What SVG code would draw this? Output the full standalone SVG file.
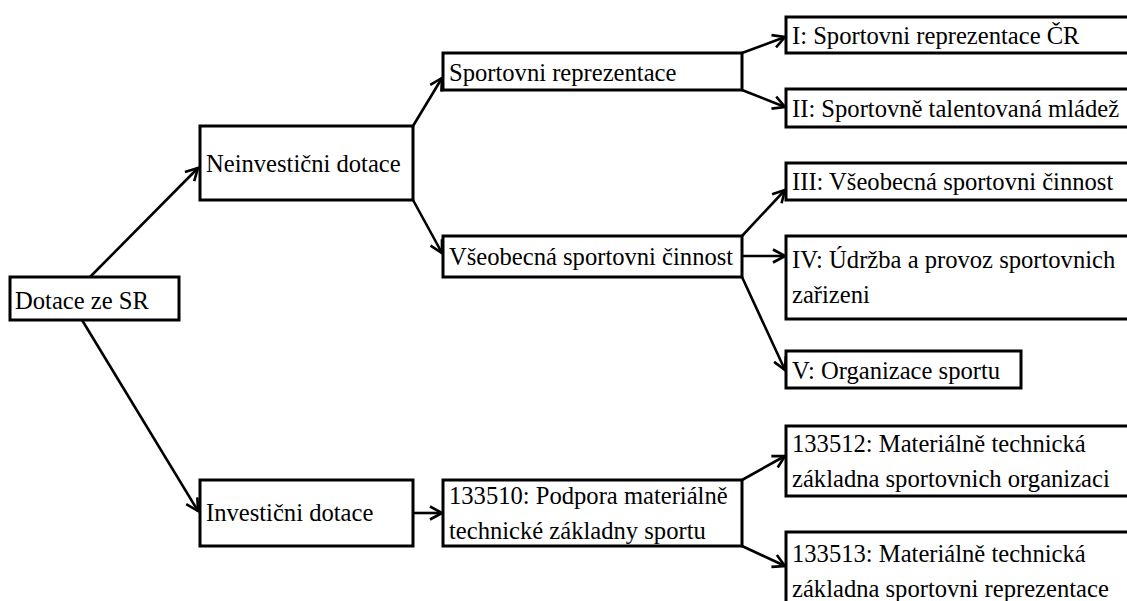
<svg xmlns="http://www.w3.org/2000/svg" width="1127" height="601" viewBox="0 0 1127 601">
<style>
.box{fill:#fff;stroke:#000;stroke-width:3}
.t{font-family:"Liberation Serif","Times New Roman",serif;font-size:24.6px;fill:#000}
.c{stroke:#000;stroke-width:2.6;fill:none;marker-end:url(#ah)}
</style>
<defs>
<marker id="ah" markerUnits="userSpaceOnUse" markerWidth="16" markerHeight="16" viewBox="0 0 16 16" refX="14" refY="8" orient="auto">
<path d="M2,1.5 L14,8 L2,14.5" fill="none" stroke="#000" stroke-width="2.6"/>
</marker>
</defs>
<rect width="1127" height="601" fill="#fff"/>
<g id="connectors">
<line class="c" x1="90" y1="277" x2="198" y2="168"/>
<line class="c" x1="82" y1="320" x2="198" y2="511"/>
<line class="c" x1="413" y1="126" x2="442" y2="78"/>
<line class="c" x1="413" y1="200" x2="442" y2="253"/>
<line class="c" x1="413" y1="513" x2="442" y2="513"/>
<line class="c" x1="742" y1="53" x2="785" y2="37"/>
<line class="c" x1="742" y1="90" x2="785" y2="107"/>
<line class="c" x1="742" y1="236" x2="785" y2="190"/>
<line class="c" x1="742" y1="256" x2="785" y2="256"/>
<line class="c" x1="742" y1="277" x2="785" y2="370"/>
<line class="c" x1="742" y1="480" x2="785" y2="456"/>
<line class="c" x1="742" y1="546" x2="785" y2="566"/>
</g>
<g id="n-dotace">
<rect class="box" x="10" y="277" width="169" height="43"/>
<text class="t" x="15" y="309">Dotace ze SR</text>
</g>
<g id="n-neinv">
<rect class="box" x="200" y="126" width="213" height="74"/>
<text class="t" x="206" y="172">Neinvestični dotace</text>
</g>
<g id="n-inv">
<rect class="box" x="200" y="480" width="213" height="66"/>
<text class="t" x="206" y="521">Investični dotace</text>
</g>
<g id="n-sportrep">
<rect class="box" x="443" y="53" width="299" height="37"/>
<text class="t" x="449" y="81">Sportovni reprezentace</text>
</g>
<g id="n-vseob">
<rect class="box" x="443" y="236" width="299" height="41"/>
<text class="t" x="449" y="265">Všeobecná sportovni činnost</text>
</g>
<g id="n-133510">
<rect class="box" x="443" y="480" width="299" height="66"/>
<text class="t" x="449" y="504">133510: Podpora materiálně</text>
<text class="t" x="449" y="539">technické základny sportu</text>
</g>
<g id="n-I">
<rect class="box" x="786" y="17" width="360" height="36"/>
<text class="t" x="792" y="44">I: Sportovni reprezentace ČR</text>
</g>
<g id="n-II">
<rect class="box" x="786" y="89" width="360" height="38"/>
<text class="t" x="792" y="117">II: Sportovně talentovaná mládež</text>
</g>
<g id="n-III">
<rect class="box" x="786" y="163" width="360" height="37"/>
<text class="t" x="792" y="190">III: Všeobecná sportovni činnost</text>
</g>
<g id="n-IV">
<rect class="box" x="786" y="236" width="360" height="83"/>
<text class="t" x="792" y="268">IV: Údržba a provoz sportovnich</text>
<text class="t" x="792" y="303">zařizeni</text>
</g>
<g id="n-V">
<rect class="box" x="786" y="351" width="235" height="37"/>
<text class="t" x="792" y="379">V: Organizace sportu</text>
</g>
<g id="n-133512">
<rect class="box" x="786" y="426" width="360" height="70"/>
<text class="t" x="792" y="452">133512: Materiálně technická</text>
<text class="t" x="792" y="487">základna sportovnich organizaci</text>
</g>
<g id="n-133513">
<rect class="box" x="786" y="532" width="360" height="90"/>
<text class="t" x="792" y="562">133513: Materiálně technická</text>
<text class="t" x="792" y="597">základna sportovni reprezentace</text>
</g>
</svg>
